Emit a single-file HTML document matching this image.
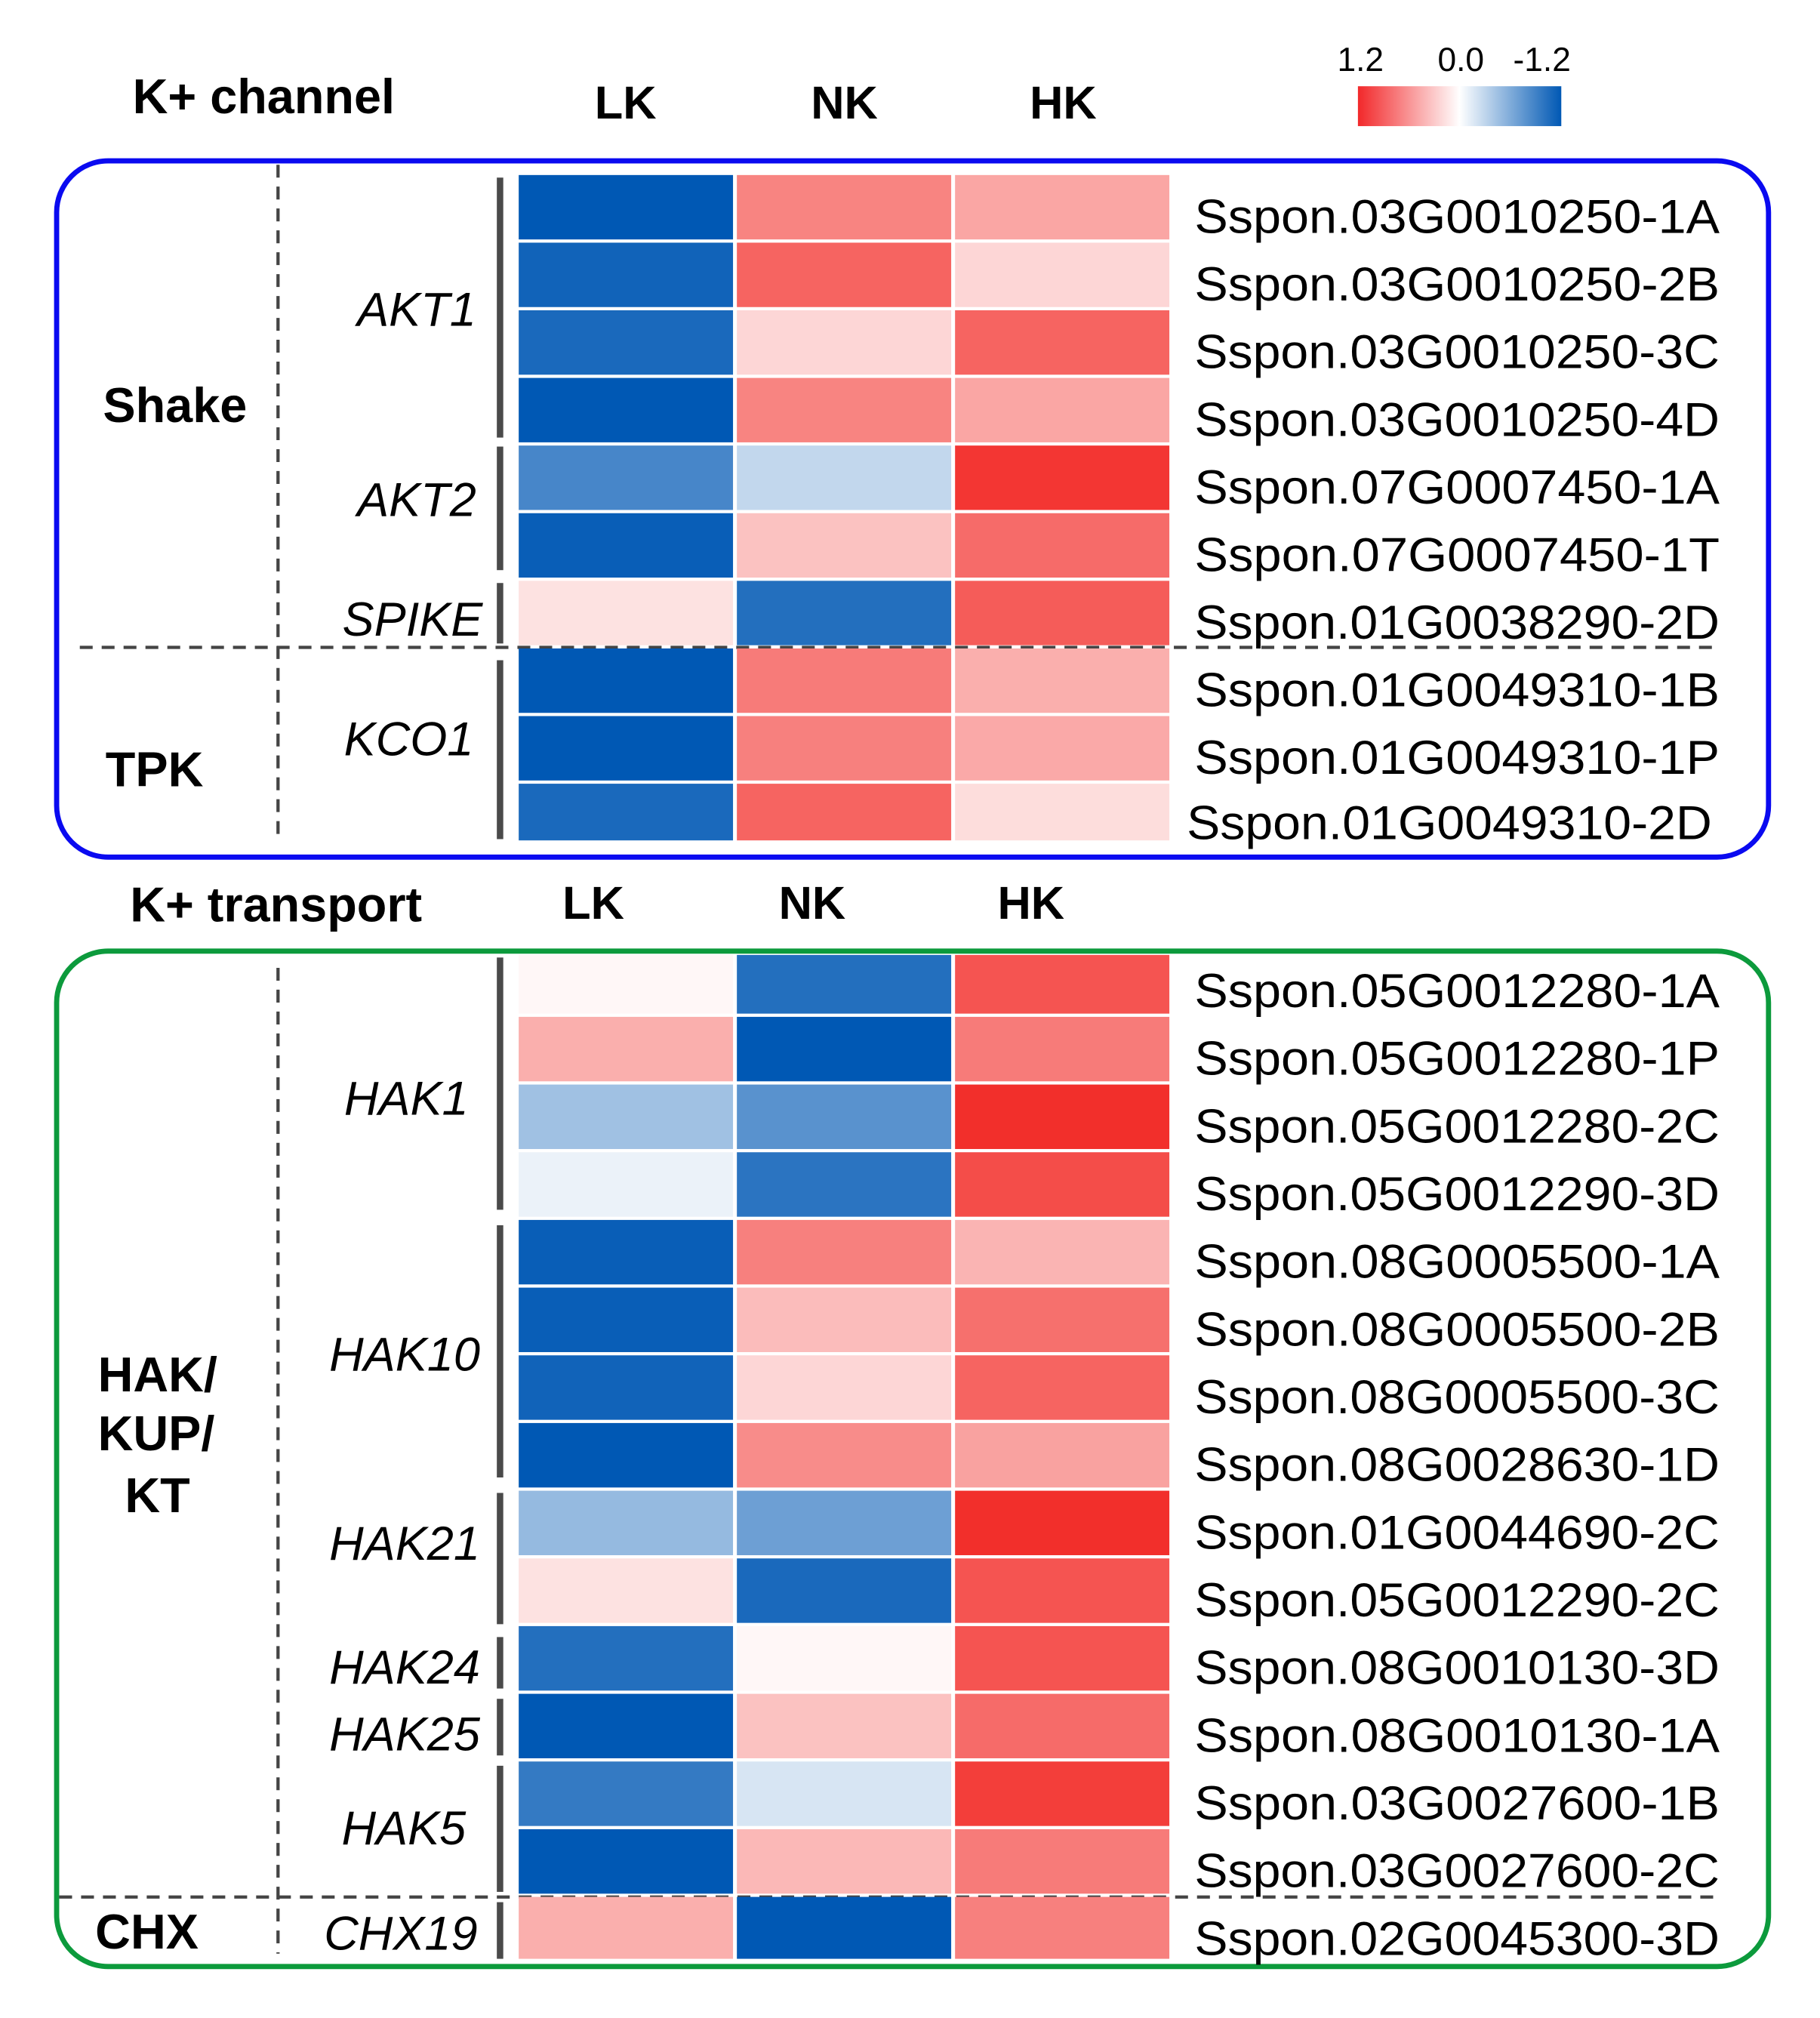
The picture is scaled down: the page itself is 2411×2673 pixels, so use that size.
<!DOCTYPE html>
<html><head><meta charset="utf-8"><style>
html,body{margin:0;padding:0;background:#fff}
svg{display:block}
text{font-family:"Liberation Sans",Arial,sans-serif;fill:#000}
.b{font-weight:bold;font-size:36px}
.t{font-weight:bold;font-size:38px}
.i{font-style:italic;font-size:37px}
.g{font-size:37px}
</style></head><body>
<svg id="chart" width="2411" height="2673" viewBox="0 0 1414 1568" preserveAspectRatio="none" xmlns="http://www.w3.org/2000/svg">
<defs><linearGradient id="lg" x1="0" x2="1" y1="0" y2="0"><stop offset="0" stop-color="#f2282a"/><stop offset="0.5" stop-color="#ffffff"/><stop offset="1" stop-color="#0058b4"/></linearGradient></defs>
<g>
<rect x="1055" y="67" width="158" height="31" fill="url(#lg)"/>
<text x="1057" y="55" font-size="26" text-anchor="middle">1.2</text>
<text x="1135" y="55" font-size="26" text-anchor="middle">0.0</text>
<text x="1198" y="55" font-size="26" text-anchor="middle">-1.2</text>
</g>
<text class="t" x="103" y="88">K+ channel</text>
<text class="b" x="486" y="92" text-anchor="middle">LK</text>
<text class="b" x="656" y="92" text-anchor="middle">NK</text>
<text class="b" x="826" y="92" text-anchor="middle">HK</text>
<text class="t" x="101" y="716">K+ transport</text>
<text class="b" x="461" y="714" text-anchor="middle">LK</text>
<text class="b" x="631" y="714" text-anchor="middle">NK</text>
<text class="b" x="801" y="714" text-anchor="middle">HK</text>
<rect x="44" y="125" width="1330" height="541" rx="40" fill="none" stroke="#0a0af0" stroke-width="4"/>
<rect x="44" y="739" width="1330" height="789" rx="40" fill="none" stroke="#0c9a3c" stroke-width="4"/>
<g stroke="#444" stroke-width="2.5" stroke-dasharray="10,7" fill="none">
<line x1="216" y1="128" x2="216" y2="650"/>
<line x1="216" y1="752" x2="216" y2="1518"/>
<line x1="62" y1="503" x2="1335" y2="503"/>
<line x1="46" y1="1474" x2="1338" y2="1474"/>
</g>
<g fill="#4a4a4a">
<rect x="386" y="138" width="5" height="202"/><rect x="386" y="347" width="5" height="96"/>
<rect x="386" y="453" width="5" height="47"/><rect x="386" y="513" width="5" height="139"/>
<rect x="386" y="744" width="5" height="196"/><rect x="386" y="952" width="5" height="196"/>
<rect x="386" y="1160" width="5" height="102"/><rect x="386" y="1272" width="5" height="40"/>
<rect x="386" y="1320" width="5" height="44"/><rect x="386" y="1372" width="5" height="98"/>
<rect x="386" y="1478" width="5" height="44"/>
</g>
<g class="t">
<text x="80" y="328">Shake</text><text x="82" y="611">TPK</text>
<text x="76" y="1081">HAK/</text><text x="76" y="1127">KUP/</text><text x="97" y="1175">KT</text>
<text x="74" y="1514">CHX</text>
</g>
<g class="i" text-anchor="end">
<text x="370" y="253">AKT1</text><text x="370" y="401">AKT2</text><text x="375" y="494">SPIKE</text>
<text x="368" y="587">KCO1</text><text x="364" y="866">HAK1</text><text x="373" y="1065">HAK10</text>
<text x="373" y="1212">HAK21</text><text x="373" y="1308">HAK24</text><text x="373" y="1360">HAK25</text>
<text x="362" y="1433">HAK5</text><text x="371" y="1515">CHX19</text>
</g>
<g id="cells"></g>
<g id="labels"></g>
</svg>
<script>
const columns = ["LK","NK","HK"];
const genes1 = ["Sspon.03G0010250-1A","Sspon.03G0010250-2B","Sspon.03G0010250-3C","Sspon.03G0010250-4D","Sspon.07G0007450-1A","Sspon.07G0007450-1T","Sspon.01G0038290-2D","Sspon.01G0049310-1B","Sspon.01G0049310-1P","Sspon.01G0049310-2D"];
const lk1 = [-1.2,-1.1,-1.05,-1.2,-0.8,-1.15,0.1,-1.2,-1.2,-1.05];
const nk1 = [0.6,0.8,0.15,0.6,-0.2,0.25,-1.0,0.65,0.62,0.8];
const hk1 = [0.4,0.15,0.8,0.4,1.1,0.75,0.85,0.35,0.38,0.12];
const genes2 = ["Sspon.05G0012280-1A","Sspon.05G0012280-1P","Sspon.05G0012280-2C","Sspon.05G0012290-3D","Sspon.08G0005500-1A","Sspon.08G0005500-2B","Sspon.08G0005500-3C","Sspon.08G0028630-1D","Sspon.01G0044690-2C","Sspon.05G0012290-2C","Sspon.08G0010130-3D","Sspon.08G0010130-1A","Sspon.03G0027600-1B","Sspon.03G0027600-2C","Sspon.02G0045300-3D"];
const lk2 = [0.02,0.35,-0.35,-0.05,-1.15,-1.15,-1.1,-1.2,-0.4,0.1,-1.0,-1.2,-0.9,-1.2,0.35];
const nk2 = [-1.0,-1.2,-0.7,-0.95,0.62,0.28,0.15,0.55,-0.6,-1.05,0.02,0.25,-0.12,0.3,-1.2];
const hk2 = [0.9,0.65,1.15,0.95,0.32,0.72,0.8,0.42,1.15,0.9,0.9,0.75,1.05,0.65,0.62];
const NS="http://www.w3.org/2000/svg";
function color(v){
  let t=Math.max(-1,Math.min(1,v/1.2));
  let c = t>=0 ? [242,40,36] : [0,88,180];
  let a=Math.pow(Math.abs(t),0.8);
  return `rgb(${Math.round(255+(c[0]-255)*a)},${Math.round(255+(c[1]-255)*a)},${Math.round(255+(c[2]-255)*a)})`;
}
const xCol = i => 403 + i*169.5;
const cells=document.getElementById('cells'), labels=document.getElementById('labels');
function block(genes, series, top, pitch, firstTop, lastBottom){
  genes.forEach((g,r)=>{
    let y0 = top + r*pitch, y1 = y0 + pitch - 2.5;
    if(r===0) y0=firstTop;
    if(r===genes.length-1) y1=lastBottom;
    series.forEach((s,c)=>{
      const rc=document.createElementNS(NS,'rect');
      rc.setAttribute('x',xCol(c)); rc.setAttribute('y',y0);
      rc.setAttribute('width',166.5); rc.setAttribute('height',y1-y0);
      rc.setAttribute('fill',color(s[r]));
      
      
      cells.appendChild(rc);
    });
    const t=document.createElementNS(NS,'text');
    t.setAttribute('class','g');
    t.setAttribute('x', r===genes.length-1 && genes===genes1 ? 922 : 928);
    t.setAttribute('y', (top + r*pitch) + 45 + (r===genes.length-1 && genes===genes1 ? -2 : 0));
    t.setAttribute('textLength',408); t.setAttribute('lengthAdjust','spacingAndGlyphs');
    t.textContent=g;
    
    
    labels.appendChild(t);
  });
}
block(genes1,[lk1,nk1,hk1],136,52.55,136,653);
block(genes2,[lk2,nk2,hk2],737.5,52.6,742,1522);
</script>
</body></html>
